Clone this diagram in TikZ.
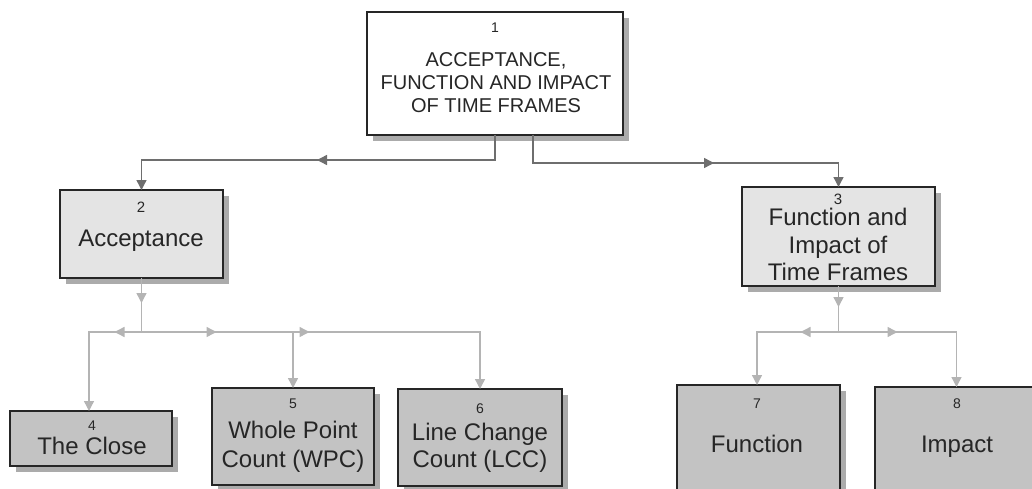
\documentclass[tikz,border=0pt]{standalone}
\usepackage{fontspec}
\setmainfont{Liberation Sans}
\usetikzlibrary{shadows,arrows.meta,decorations.markings}

\definecolor{ink}{HTML}{262626}
\definecolor{upline}{HTML}{6E6E6E}
\definecolor{loline}{HTML}{B4B4B4}
\definecolor{paleFill}{HTML}{E4E4E4}
\definecolor{darkFill}{HTML}{C3C3C3}
\definecolor{shade}{HTML}{ABABAB}

\tikzset{
  box/.style={draw=ink, line width=2.6pt, inner sep=0pt, outer sep=0pt, anchor=north west,
    drop shadow={shadow xshift=6pt, shadow yshift=-6pt, fill=shade, opacity=1}},
  topbox/.style={box, fill=white},
  midbox/.style={box, fill=paleFill},
  leafbox/.style={box, fill=darkFill},
  num/.style={anchor=base, text=ink, inner sep=0pt, font=\fontsize{14}{16}\selectfont},
  numbig/.style={num, font=\fontsize{15}{17}\selectfont},
  lbl/.style={anchor=base, text=ink, inner sep=0pt, font=\fontsize{24}{28}\selectfont},
  caps/.style={anchor=base, text=ink, inner sep=0pt, font=\fontsize{20}{23}\selectfont},
  tip/.tip={Triangle[length=10pt,width=10pt]},
  upconn/.style={draw=upline, line width=1.4pt},
  loconn/.style={draw=loline, line width=1.4pt},
  midtip/.style={postaction={decorate,
    decoration={markings, mark=at position #1 with {\arrow{tip}}}}},
}

\begin{document}
\begin{tikzpicture}[x=1pt, y=-1pt]
\useasboundingbox (0,0) rectangle (1032,489);
\clip (0,0) rectangle (1032,489);

% boxes
\node[topbox, minimum width=256pt, minimum height=123pt] (b1) at (367,12) {};
\node[midbox, minimum width=163pt, minimum height=88pt] (b2) at (60,190) {};
\node[midbox, minimum width=193pt, minimum height=99pt] (b3) at (742,187) {};
\node[leafbox, minimum width=162pt, minimum height=55pt] (b4) at (10,411) {};
\node[leafbox, minimum width=162pt, minimum height=97pt] (b5) at (212,388) {};
\node[leafbox, minimum width=164pt, minimum height=97pt] (b6) at (398,389) {};
\node[leafbox, minimum width=163pt, minimum height=120pt] (b7) at (677,385) {};
\node[leafbox, minimum width=163pt, minimum height=120pt] (b8) at (875,387) {};

% texts
\node[num] (n1) at (495,33) {1};
\node[caps] (t1a) at (496,67) {ACCEPTANCE,};
\node[caps] (t1b) at (496,90) {FUNCTION AND IMPACT};
\node[caps] (t1c) at (496,113) {OF TIME FRAMES};

\node[numbig] (n2) at (141,212) {2};
\node[lbl] (t2) at (141,246) {Acceptance};

\node[numbig] (n3) at (838,204) {3};
\node[lbl] (t3a) at (838,225) {Function and};
\node[lbl] (t3b) at (838,253) {Impact of};
\node[lbl] (t3c) at (838,280) {Time Frames};

\node[num] (n4) at (92,430) {4};
\node[lbl] (t4) at (92,454) {The Close};

\node[num] (n5) at (293,408) {5};
\node[lbl] (t5a) at (293,438) {Whole Point};
\node[lbl] (t5b) at (293,467) {Count (WPC)};

\node[num] (n6) at (480,413) {6};
\node[lbl] (t6a) at (480,440) {Line Change};
\node[lbl] (t6b) at (480,467) {Count (LCC)};

\node[num] (n7) at (757,408) {7};
\node[lbl] (t7) at (757,452) {Function};

\node[num] (n8) at (957,408) {8};
\node[lbl] (t8) at (957,452) {Impact};

% junction points
\coordinate (c1) at (495,160);
\coordinate (c2) at (533,163);
\coordinate (j2) at (b2.south |- 0,332);
\coordinate (j3) at (b3.south |- 0,332);

% upper connectors
\draw[upconn, -tip, midtip=203pt] (b1.south) -- (c1) -| (b2.north);
\draw[upconn, -tip, midtip=209pt] (c2 |- b1.south) -- (c2) -| (b3.north);

% lower connectors under box 2
\draw[loconn, midtip=25pt] (b2.south) -- (j2);
\draw[loconn, -tip, midtip=27pt] (j2) -| ([xshift=-2pt]b4.north);
\draw[loconn, -tip] (j2) -| (b5.north);
\draw[loconn, -tip, midtip=75pt, midtip=168pt] (j2) -| (b6.north);

% lower connectors under box 3
\draw[loconn, midtip=21pt] (b3.south) -- (j3);
\draw[loconn, -tip, midtip=38pt] (j3) -| ([xshift=-1.5pt]b7.north);
\draw[loconn, -tip, midtip=59pt] (j3) -| (b8.north);
\end{tikzpicture}
\end{document}
